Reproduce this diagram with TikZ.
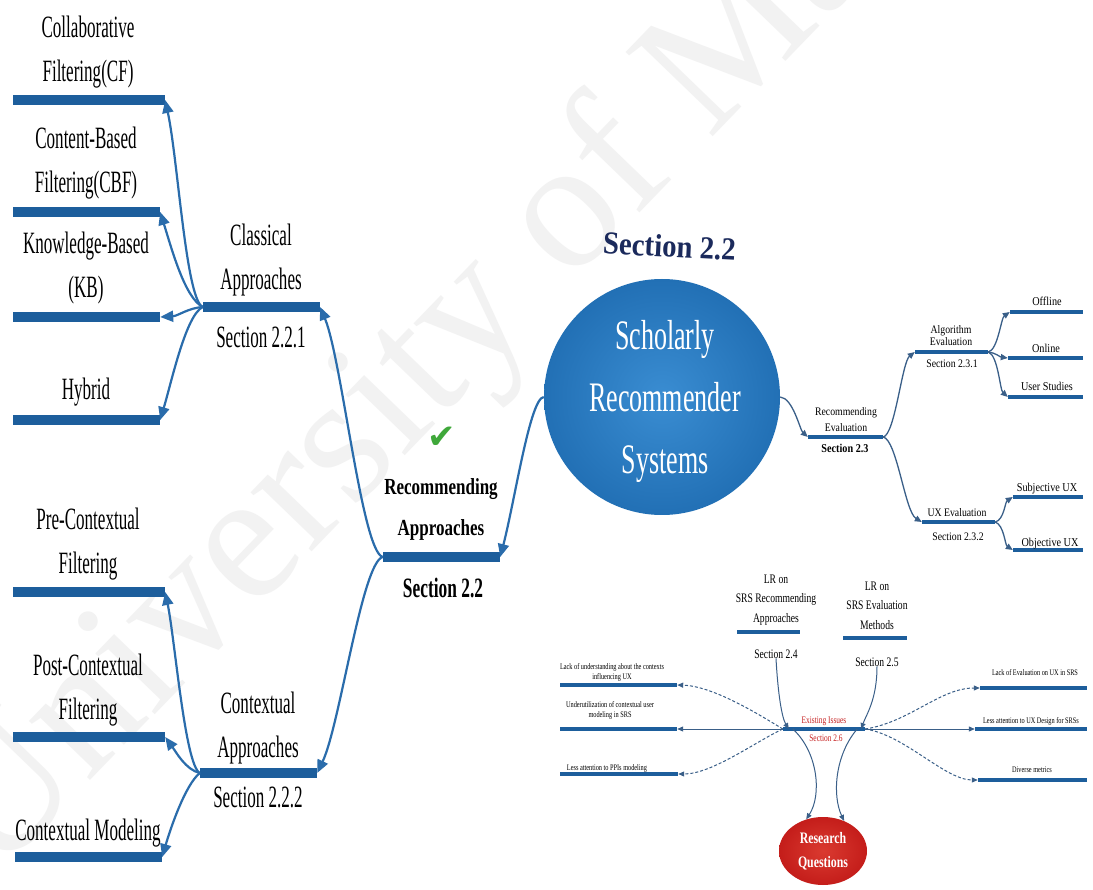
\documentclass[tikz,border=0pt]{standalone}
\usepackage{fontspec}
\setmainfont{Liberation Serif}
\newfontfamily\condA[FakeStretch=0.55]{Liberation Serif}
\newfontfamily\condB[FakeStretch=0.62]{Liberation Serif}
\newfontfamily\condC[FakeStretch=0.74]{Liberation Serif}
\newfontfamily\condD[FakeStretch=0.85]{Liberation Serif}
\newfontfamily\condE[FakeStretch=0.9]{Liberation Serif}
\newfontfamily\symbolfont{DejaVu Sans}
\usetikzlibrary{arrows.meta,shapes.geometric}
\definecolor{barblue}{HTML}{1D5E9C}
\definecolor{lineblue}{HTML}{2A6CAB}
\definecolor{thinline}{HTML}{3A5F88}
\definecolor{navy}{HTML}{1B2A5C}
\definecolor{ballin}{HTML}{3A8DD2}
\definecolor{ballout}{HTML}{2270B5}
\definecolor{rqin}{HTML}{DA3A30}
\definecolor{rqout}{HTML}{C41D1A}
\definecolor{issuered}{HTML}{C62020}
\definecolor{tickgreen}{HTML}{3FA83A}
\begin{document}
\begin{tikzpicture}[x=1pt,y=-1pt,
  bar/.style={rectangle, fill=barblue, inner sep=0pt, minimum height=10pt},
  midbar/.style={rectangle, fill=barblue, inner sep=0pt, minimum height=4.5pt},
  thinbar/.style={rectangle, fill=barblue, inner sep=0pt, minimum height=3.5pt},
  lab/.style={anchor=base, align=center, inner sep=0pt},
  bigL/.style={lab, font=\condA\fontsize{31}{44}\selectfont},
  circT/.style={lab, text=white, font=\condB\fontsize{42}{62}\selectfont},
  raT/.style={lab, font=\condC\bfseries\fontsize{23}{40}\selectfont},
  raS/.style={lab, font=\condB\bfseries\fontsize{28}{34}\selectfont},
  titleT/.style={lab, text=navy, font=\condE\bfseries\fontsize{32}{38}\selectfont},
  evT/.style={lab, font=\condD\fontsize{11.5}{12.5}\selectfont},
  evS/.style={lab, font=\condD\bfseries\fontsize{12}{14}\selectfont},
  leafT/.style={lab, font=\condD\fontsize{12}{14}\selectfont},
  lrT/.style={lab, font=\condC\fontsize{13}{19.5}\selectfont},
  issT/.style={lab, font=\condC\fontsize{8.5}{9.5}\selectfont},
  eiT/.style={lab, text=issuered, font=\condC\fontsize{10}{12}\selectfont},
  bigconn/.style={draw=lineblue, line width=2.2pt, -{Triangle[length=13pt,width=11pt]}},
  midconn/.style={draw=thinline, line width=1.3pt, -{Triangle[length=7pt,width=6pt]}},
  thinconn/.style={draw=thinline, line width=1pt, -{Triangle[length=6pt,width=5pt]}},
  dashconn/.style={thinconn, dash pattern=on 3pt off 2pt},
]
\fill[white] (0,0) rectangle (1093,890);
\useasboundingbox (0,0) rectangle (1093,890);

% faint watermark behind the map
\node[anchor=base west, rotate=46, inner sep=0pt, text=black!5,
  font=\fontsize{185}{185}\selectfont] (wm) at (-5,880) {University of Malaya};

% multi-line labels are anchored at the baseline of their last line

% ---------- classical approaches ----------
\node[bar, minimum width=152pt] (cf)  at (89,100) {};
\node[bar, minimum width=147pt] (cbf) at (86.5,212) {};
\node[bar, minimum width=147pt] (kb)  at (86.5,317) {};
\node[bar, minimum width=147pt] (hyb) at (86.5,420) {};
\node[bar, minimum width=117pt] (cls) at (261.5,307) {};
\node[bigL] (cfL)  at (88,82)  {Collaborative\\Filtering(CF)};
\node[bigL] (cbfL) at (86,193) {Content-Based\\Filtering(CBF)};
\node[bigL] (kbL)  at (86,298) {Knowledge-Based\\(KB)};
\node[bigL] (hybL) at (86,400) {Hybrid};
\node[bigL] (clsL) at (261,290) {Classical\\Approaches};
\node[bigL] (clsS) at (261,348) {Section 2.2.1};

% ---------- contextual approaches ----------
\node[bar, minimum width=152pt] (pre)  at (89,592) {};
\node[bar, minimum width=152pt] (post) at (89,737) {};
\node[bar, minimum width=147pt] (cm)   at (88.5,857) {};
\node[bar, minimum width=117pt] (ctx)  at (258.5,773) {};
\node[bigL] (preL)  at (88,573) {Pre-Contextual\\Filtering};
\node[bigL] (postL) at (88,719) {Post-Contextual\\Filtering};
\node[bigL] (cmL)   at (88,840) {Contextual Modeling};
\node[bigL] (ctxL)  at (258,757) {Contextual\\Approaches};
\node[bigL] (ctxS)  at (258,807) {Section 2.2.2};

% ---------- recommending approaches ----------
\node[bar, minimum width=117pt] (ra) at (441.5,557) {};
\node[lab, text=tickgreen, font=\symbolfont\fontsize{34}{34}\selectfont] (tick) at (442,449) {✔};
\node[raT] (raL) at (441,535) {Recommending\\Approaches};
\node[raS] (raSec) at (443,597) {Section 2.2};

% ---------- central topic ----------
\node[titleT, rotate=-3] (title) at (669,257) {Section 2.2};
\node[circle, minimum size=236pt, inner sep=0pt, inner color=ballin, outer color=ballout] (srs) at (662,397) {};
\node[circT] (srsL) at (665,474) {Scholarly\\Recommender\\Systems};

% ---------- recommending evaluation ----------
\node[midbar, minimum width=75pt] (re)   at (845.5,437) {};
\node[midbar, minimum width=73pt] (ae)   at (951.5,352) {};
\node[midbar, minimum width=73pt] (off)  at (1046.5,312) {};
\node[midbar, minimum width=75pt] (onl)  at (1045.5,358) {};
\node[midbar, minimum width=75pt] (us)   at (1045.5,397) {};
\node[midbar, minimum width=73pt] (uxe)  at (958.5,522) {};
\node[midbar, minimum width=70pt] (subj) at (1048,497) {};
\node[midbar, minimum width=70pt] (obj)  at (1048,550) {};
\node[evT] (reL)   at (846,432) {Recommending\\[4.5pt]Evaluation};
\node[evS] (reS)   at (845,453) {Section 2.3};
\node[evT] (aeL)   at (951,346) {Algorithm\\Evaluation};
\node[evT] (aeS)   at (952,368) {Section 2.3.1};
\node[leafT] (offL)  at (1047,306) {Offline};
\node[leafT] (onlL)  at (1046,353) {Online};
\node[leafT] (usL)   at (1047,391) {User Studies};
\node[evT] (uxeL)  at (957,517) {UX Evaluation};
\node[evT] (uxeS)  at (958,540) {Section 2.3.2};
\node[leafT] (subjL) at (1047,492) {Subjective UX};
\node[leafT] (objL)  at (1050,546) {Objective UX};

% ---------- literature review and existing issues ----------
\node[thinbar, minimum width=63pt] (lr24) at (768.5,632) {};
\node[thinbar, minimum width=64pt] (lr25) at (875,638) {};
\node[thinbar, minimum width=82pt] (ei)   at (824,729) {};
\node[lrT] (lr24L) at (776,622) {LR on\\SRS Recommending\\Approaches};
\node[lrT] (lr24S) at (776,658) {Section 2.4};
\node[lrT] (lr25L) at (877,629) {LR on\\SRS Evaluation\\Methods};
\node[lrT] (lr25S) at (877,666) {Section 2.5};
\node[eiT] (eiL) at (824,723) {Existing Issues};
\node[eiT] (eiS) at (826,741) {Section 2.6};

\node[midbar, minimum width=117pt] (iss1) at (618.5,685) {};
\node[midbar, minimum width=117pt] (iss2) at (618.5,729) {};
\node[midbar, minimum width=118pt] (iss3) at (619,774) {};
\node[midbar, minimum width=107pt] (iss4) at (1033.5,688) {};
\node[midbar, minimum width=112pt] (iss5) at (1031,729) {};
\node[midbar, minimum width=109pt] (iss6) at (1032.5,780) {};
\node[issT] (iss1L) at (612,679) {Lack of understanding about the contexts\\influencing UX};
\node[issT] (iss2L) at (610,717) {Underutilization of contextual user\\modeling in SRS};
\node[issT] (iss3L) at (607,770) {Less attention to PPIs modeling};
\node[issT] (iss4L) at (1035,675) {Lack of Evaluation on UX in SRS};
\node[issT] (iss5L) at (1031,723) {Less attention to UX Design for SRSs};
\node[issT] (iss6L) at (1032,772) {Diverse metrics};

\node[ellipse, minimum width=88pt, minimum height=68pt, inner sep=0pt,
  inner color=rqin, outer color=rqout, text=white, align=center,
  font=\condC\bfseries\fontsize{16}{24}\selectfont] (rq) at (823,851) {Research\\Questions};

% ---------- connectors ----------
\draw[bigconn] (cls.west) .. controls (186,300) and (178,160) .. (cf.east);
\draw[bigconn] (cls.west) .. controls (185,298) and (172,250) .. (cbf.east);
\draw[bigconn] (cls.west) .. controls (188,308) and (178,316) .. (kb.east);
\draw[bigconn] (cls.west) .. controls (186,315) and (172,380) .. (hyb.east);

\draw[bigconn] (ctx.west) .. controls (185,765) and (175,640) .. (pre.east);
\draw[bigconn] (ctx.west) .. controls (186,770) and (176,752) .. (post.east);
\draw[bigconn] (ctx.west) .. controls (185,785) and (170,830) .. (cm.east);

\draw[bigconn] (ra.west) .. controls (362,552) and (342,360) .. (cls.east);
\draw[bigconn] (ra.west) .. controls (362,562) and (340,725) .. (ctx.east);
\draw[bigconn] (srs.west) .. controls (530,398) and (515,500) .. (ra.east);

\draw[midconn] (srs.east) .. controls (793,398) and (800,430) .. (re.west);
\draw[midconn] (re.east) .. controls (895,435) and (902,362) .. (ae.west);
\draw[midconn] (re.east) .. controls (897,440) and (905,512) .. (uxe.west);
\draw[midconn] (ae.east) .. controls (998,350) and (1001,318) .. (off.west);
\draw[midconn] (ae.east) .. controls (996,353) and (1000,357) .. (onl.west);
\draw[midconn] (ae.east) .. controls (998,355) and (1000,390) .. (us.west);
\draw[midconn] (uxe.east) .. controls (1004,520) and (1005,502) .. (subj.west);
\draw[midconn] (uxe.east) .. controls (1004,525) and (1005,545) .. (obj.west);

\draw[thinconn] (lr24S.south) .. controls (778,695) and (782,718) .. ([xshift=6pt]ei.west);
\draw[thinconn] (lr25S.south) .. controls (877,700) and (866,715) .. ([xshift=-4pt]ei.east);
\draw[thinconn] ([xshift=10pt]ei.west) .. controls (818,752) and (822,795) .. (rq.118);
\draw[thinconn] ([xshift=-8pt]ei.east) .. controls (835,755) and (832,795) .. (rq.55);

\draw[dashconn] (ei.west) .. controls (755,712) and (712,686) .. (iss1.east);
\draw[thinconn] (ei.west) -- (iss2.east);
\draw[dashconn] (ei.west) .. controls (755,742) and (712,774) .. (iss3.east);
\draw[dashconn] (ei.east) .. controls (910,722) and (940,688) .. (iss4.west);
\draw[thinconn] (ei.east) -- (iss5.west);
\draw[dashconn] (ei.east) .. controls (905,735) and (945,780) .. (iss6.west);
\end{tikzpicture}
\end{document}
